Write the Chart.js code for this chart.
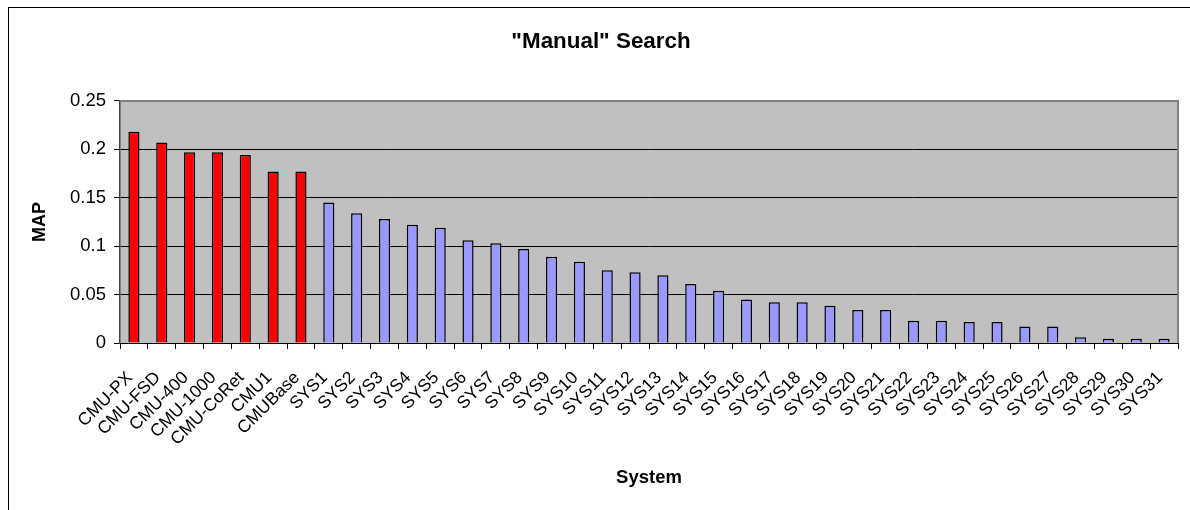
<!DOCTYPE html>
<html>
<head>
<meta charset="utf-8">
<script src="https://cdn.jsdelivr.net/npm/chart.js@4/dist/chart.umd.min.js"></script>
<style>
  html,body{margin:0;padding:0;background:#fff;}
  #wrap{width:1190px;height:510px;position:relative;}
</style>
</head>
<body>
<div id="wrap"><canvas id="myChart" width="1190" height="510"></canvas></div>
<script>
// systems in rank order
const cmuSystems=["CMU-PX","CMU-FSD","CMU-400","CMU-1000","CMU-CoRet","CMU1","CMUBase"];
const cmuMap=[0.218,0.207,0.197,0.197,0.194,0.177,0.177];
const otherSystems=["SYS1","SYS2","SYS3","SYS4","SYS5","SYS6","SYS7","SYS8","SYS9","SYS10",
  "SYS11","SYS12","SYS13","SYS14","SYS15","SYS16","SYS17","SYS18","SYS19","SYS20",
  "SYS21","SYS22","SYS23","SYS24","SYS25","SYS26","SYS27","SYS28","SYS29","SYS30","SYS31"];
const otherMap=[0.145,0.134,0.128,0.122,0.119,0.106,0.103,0.097,0.089,0.084,
  0.075,0.073,0.070,0.061,0.054,0.045,0.042,0.042,0.0385,0.034,
  0.034,0.023,0.023,0.0217,0.0217,0.017,0.017,0.006,0.0045,0.0045,0.0045];
const yTicks=[0,0.05,0.1,0.15,0.2,0.25];

const labels=cmuSystems.concat(otherSystems);
const values=cmuMap.concat(otherMap);
const colors=labels.map((l,i)=>i<cmuSystems.length?"#FF0000":"#9999FF");
const FONT="Arial, 'Liberation Sans', sans-serif";

const excelLook={
  id:"excelLook",
  beforeDraw(chart){
    const c=chart.ctx;
    c.save();
    c.fillStyle="#fff";
    c.fillRect(0,0,chart.width,chart.height);
    c.strokeStyle="#000";
    c.lineWidth=1;
    c.strokeRect(8.5,7.5,chart.width+20,chart.height+20);
    const a=chart.chartArea;
    c.fillStyle="#C0C0C0";
    c.fillRect(a.left,a.top,a.right-a.left,a.bottom-a.top);
    c.restore();
  },
  beforeDatasetsDraw(chart){
    const c=chart.ctx, a=chart.chartArea;
    c.save();
    c.strokeStyle="#808080";
    c.lineWidth=2;
    c.beginPath();
    c.moveTo(a.left,a.top);
    c.lineTo(a.right,a.top);
    c.lineTo(a.right,a.bottom);
    c.stroke();
    c.restore();
  },
  afterDraw(chart){
    // slanted category labels, Excel style
    const c=chart.ctx, xs=chart.scales.x;
    c.save();
    c.fillStyle="#000";
    c.font="17.5px "+FONT;
    c.textAlign="right";
    c.textBaseline="middle";
    xs.ticks.forEach((t,i)=>{
      const x=xs.getPixelForTick(i);
      c.save();
      c.translate(x-4,xs.top+32);
      c.rotate(-Math.PI/4);
      c.fillText(labels[i],0,0);
      c.restore();
    });
    c.restore();
  }
};

new Chart(document.getElementById("myChart"),{
  type:"bar",
  data:{
    labels:labels,
    datasets:[{
      data:values,
      backgroundColor:colors,
      borderColor:"#000",
      borderWidth:1.5,
      barPercentage:0.4,
      categoryPercentage:1.0
    }]
  },
  options:{
    responsive:false,
    animation:false,
    layout:{padding:{left:24,right:12,top:0,bottom:0}},
    plugins:{
      legend:{display:false},
      tooltip:{enabled:false},
      title:{
        display:true,
        text:"\"Manual\" Search",
        color:"#000",
        font:{family:FONT,size:22.4,weight:"bold",lineHeight:1.2},
        padding:{top:28,bottom:46}
      }
    },
    scales:{
      x:{
        afterFit(s){s.height=167;},
        grid:{drawOnChartArea:false,drawTicks:true,tickLength:6,color:"#000",offset:true},
        border:{color:"#000",width:1},
        ticks:{display:false,autoSkip:false},
        title:{
          display:true,text:"System",color:"#000",
          font:{family:FONT,size:18.5,weight:"bold",lineHeight:1.2},
          padding:{top:0,bottom:21}
        }
      },
      y:{
        min:0,max:0.25,
        afterFit(s){s.width=96;},
        afterBuildTicks(s){s.ticks=yTicks.map(v=>({value:v}));},
        grid:{color:"#000",lineWidth:1,tickLength:6,drawTicks:true},
        border:{color:"#444",width:1.5},
        ticks:{
          color:"#000",padding:8,
          font:{family:FONT,size:18.5},
          callback:v=>String(Math.round(v*100)/100)
        },
        title:{
          display:true,text:"MAP",color:"#000",
          font:{family:FONT,size:18,weight:"bold",lineHeight:1.2},
          padding:{top:5,bottom:0}
        }
      }
    }
  },
  plugins:[excelLook]
});
</script>
</body>
</html>
